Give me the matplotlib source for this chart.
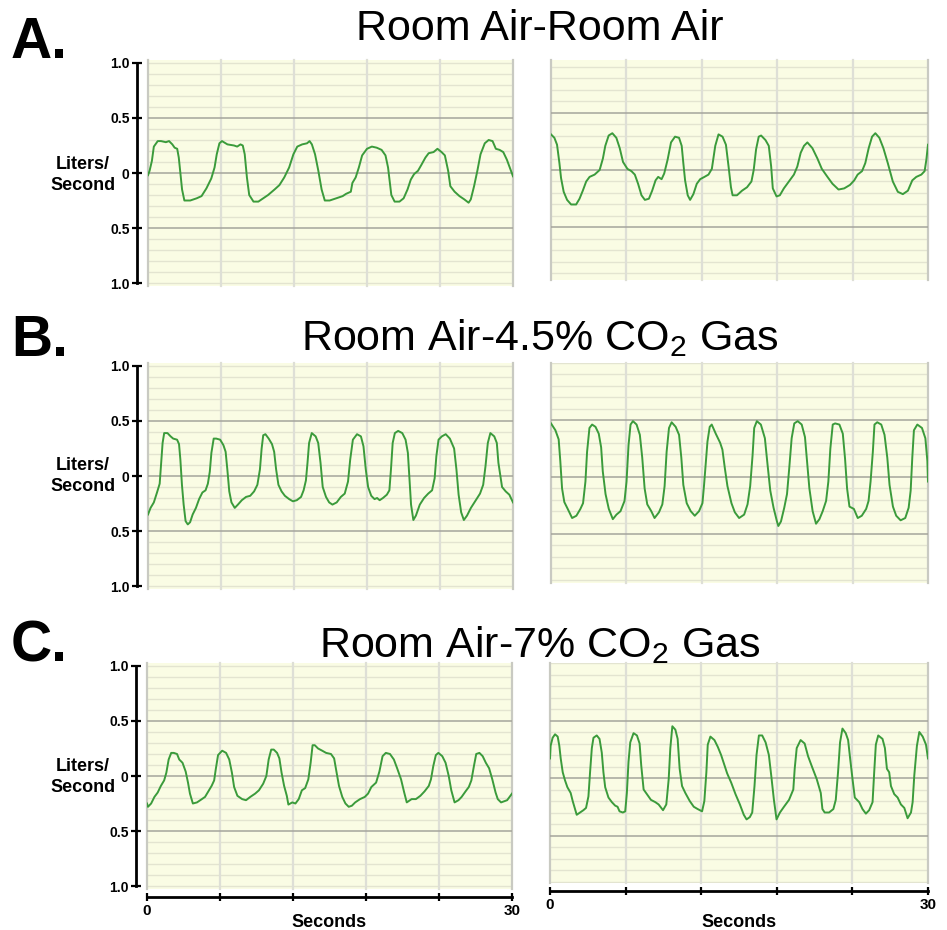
import matplotlib
matplotlib.use("Agg")
import matplotlib.pyplot as plt
import numpy as np

plt.rcParams['font.family'] = ['Liberation Sans', 'DejaVu Sans']
plt.rcParams['mathtext.fontset'] = 'custom'
plt.rcParams['mathtext.rm'] = 'Liberation Sans'
plt.rcParams['mathtext.it'] = 'Liberation Sans:italic'
plt.rcParams['mathtext.bf'] = 'Liberation Sans:bold'

# ---------------- data (seconds, liters/second) ----------------
a_left_t = [0.0, 0.13, 0.32, 0.48, 0.8, 1.07, 1.47, 1.73, 2.0, 2.19,
            2.4, 2.53, 2.67, 2.8, 2.99, 3.47, 4.0, 4.4, 4.8, 5.2,
            5.47, 5.65, 5.87, 6.08, 6.53, 7.07, 7.33, 7.6, 7.79, 7.95,
            8.13, 8.32, 8.67, 9.07, 9.47, 9.87, 10.4, 10.8, 11.2, 11.6,
            11.95, 12.27, 12.67, 13.07, 13.28, 13.47, 13.73, 14.0, 14.27, 14.53,
            14.93, 15.47, 16.0, 16.27, 16.67, 16.8, 17.07, 17.33, 17.6, 18.0,
            18.4, 18.8, 19.2, 19.52, 19.73, 19.87, 20.0, 20.27, 20.67, 21.01,
            21.33, 21.6, 21.87, 22.19, 22.45, 22.8, 23.07, 23.47, 23.79, 24.13,
            24.4, 24.67, 24.85, 25.2, 25.6, 26.0, 26.35, 26.53, 26.8, 27.07,
            27.33, 27.68, 28.0, 28.32, 28.59, 28.9, 29.2, 29.5, 29.8, 30.0]
a_left_v = [-0.02, 0.02, 0.11, 0.24, 0.29, 0.29, 0.28, 0.29, 0.26, 0.23,
            0.22, 0.14, -0.01, -0.15, -0.25, -0.25, -0.23, -0.21, -0.14, -0.05,
            0.05, 0.17, 0.27, 0.29, 0.26, 0.25, 0.24, 0.26, 0.25, 0.17,
            -0.04, -0.2, -0.26, -0.26, -0.23, -0.2, -0.15, -0.11, -0.04, 0.05,
            0.17, 0.24, 0.26, 0.27, 0.29, 0.26, 0.17, 0.02, -0.15, -0.25,
            -0.25, -0.23, -0.21, -0.19, -0.17, -0.09, -0.04, 0.05, 0.16, 0.22,
            0.24, 0.23, 0.21, 0.16, 0.05, -0.08, -0.2, -0.26, -0.26, -0.23,
            -0.15, -0.06, -0.01, 0.02, 0.07, 0.14, 0.18, 0.19, 0.22, 0.19,
            0.16, 0.02, -0.12, -0.17, -0.21, -0.24, -0.27, -0.24, -0.12, 0.02,
            0.17, 0.27, 0.3, 0.29, 0.22, 0.21, 0.19, 0.12, 0.03, -0.03]

a_right_t = [0.0, 0.27, 0.48, 0.67, 0.8, 1.01, 1.28, 1.6, 2.0, 2.27,
             2.53, 2.8, 3.07, 3.47, 3.87, 4.13, 4.32, 4.59, 4.88, 5.2,
             5.47, 5.73, 6.08, 6.4, 6.67, 6.93, 7.2, 7.47, 7.79, 8.05,
             8.32, 8.53, 8.8, 9.01, 9.28, 9.55, 9.87, 10.19, 10.4, 10.53,
             10.67, 10.88, 11.07, 11.33, 11.6, 11.87, 12.21, 12.53, 12.8, 13.07,
             13.33, 13.65, 13.92, 14.13, 14.32, 14.45, 14.8, 15.2, 15.6, 15.95,
             16.13, 16.32, 16.53, 16.72, 17.07, 17.33, 17.52, 17.65, 17.95, 18.21,
             18.53, 18.93, 19.33, 19.6, 19.87, 20.13, 20.4, 20.8, 21.2, 21.55,
             22.0, 22.4, 22.88, 23.33, 23.79, 24.13, 24.4, 24.75, 25.01, 25.28,
             25.55, 25.81, 26.13, 26.45, 26.8, 27.2, 27.6, 28.0, 28.4, 28.75,
             29.07, 29.47, 29.73, 29.87, 30.0]
a_right_v = [0.31, 0.28, 0.22, 0.06, -0.07, -0.19, -0.26, -0.3, -0.3, -0.25,
             -0.18, -0.1, -0.06, -0.04, 0.0, 0.10, 0.21, 0.30, 0.32, 0.28,
             0.19, 0.07, 0.01, -0.01, -0.04, -0.12, -0.22, -0.26, -0.25, -0.18,
             -0.09, -0.06, -0.08, -0.03, 0.09, 0.24, 0.29, 0.28, 0.21, 0.06,
             -0.09, -0.22, -0.26, -0.21, -0.12, -0.08, -0.06, -0.04, 0.01, 0.21,
             0.31, 0.29, 0.22, 0.03, -0.15, -0.22, -0.22, -0.18, -0.15, -0.10,
             0.0, 0.18, 0.29, 0.3, 0.26, 0.21, 0.03, -0.16, -0.23, -0.22,
             -0.16, -0.1, -0.04, 0.03, 0.15, 0.21, 0.24, 0.19, 0.10, 0.01,
             -0.06, -0.12, -0.17, -0.16, -0.13, -0.09, -0.04, -0.01, 0.06, 0.19,
             0.29, 0.32, 0.28, 0.19, 0.06, -0.1, -0.19, -0.21, -0.18, -0.09,
             -0.06, -0.04, -0.01, 0.09, 0.22]

b_left_t = [0.0, 0.21, 0.48, 0.74, 0.96, 1.06, 1.2, 1.33, 1.6, 1.86,
            2.07, 2.39, 2.55, 2.66, 2.79, 2.93, 3.09, 3.27, 3.46, 3.67,
            3.94, 4.2, 4.47, 4.73, 4.92, 5.08, 5.21, 5.4, 5.61, 5.93,
            6.2, 6.38, 6.52, 6.68, 6.86, 7.13, 7.39, 7.71, 8.06, 8.4,
            8.72, 8.99, 9.2, 9.34, 9.47, 9.65, 9.92, 10.19, 10.37, 10.53,
            10.72, 10.98, 11.25, 11.6, 11.91, 12.23, 12.58, 12.79, 12.98, 13.11,
            13.24, 13.46, 13.78, 13.99, 14.18, 14.36, 14.63, 14.89, 15.16, 15.51,
            15.85, 16.17, 16.44, 16.62, 16.84, 17.18, 17.5, 17.71, 17.9, 18.09,
            18.35, 18.62, 18.83, 19.04, 19.31, 19.63, 19.84, 19.97, 20.11, 20.29,
            20.56, 20.9, 21.17, 21.36, 21.49, 21.62, 21.81, 22.02, 22.34, 22.69,
            23.03, 23.35, 23.56, 23.7, 23.88, 24.15, 24.47, 24.81, 25.16, 25.35,
            25.53, 25.74, 25.96, 26.22, 26.54, 26.94, 27.29, 27.55, 27.74, 27.93,
            28.14, 28.46, 28.67, 28.8, 28.99, 29.1, 29.4, 29.7, 30.0]
b_left_v = [-0.35, -0.29, -0.24, -0.15, -0.07, 0.09, 0.3, 0.39, 0.39, 0.36,
            0.34, 0.33, 0.29, 0.15, -0.08, -0.26, -0.41, -0.44, -0.42, -0.35,
            -0.29, -0.21, -0.15, -0.13, -0.07, 0.04, 0.21, 0.34, 0.34, 0.33,
            0.28, 0.22, 0.06, -0.14, -0.24, -0.29, -0.26, -0.22, -0.19, -0.18,
            -0.14, -0.08, 0.06, 0.25, 0.37, 0.38, 0.34, 0.29, 0.22, 0.06,
            -0.08, -0.14, -0.18, -0.21, -0.23, -0.22, -0.19, -0.13, -0.04, 0.12,
            0.3, 0.39, 0.36, 0.3, 0.12, -0.1, -0.19, -0.24, -0.26, -0.24,
            -0.19, -0.16, -0.05, 0.15, 0.33, 0.38, 0.36, 0.27, 0.06, -0.1,
            -0.18, -0.21, -0.20, -0.22, -0.2, -0.17, -0.13, 0.06, 0.3, 0.39,
            0.41, 0.39, 0.33, 0.21, -0.02, -0.26, -0.4, -0.36, -0.26, -0.2,
            -0.16, -0.13, -0.02, 0.18, 0.33, 0.36, 0.38, 0.34, 0.25, 0.06,
            -0.17, -0.33, -0.4, -0.36, -0.29, -0.22, -0.16, -0.08, 0.09, 0.3,
            0.39, 0.36, 0.3, 0.12, -0.02, -0.1, -0.14, -0.17, -0.24]

b_right_t = [0.0, 0.35, 0.61, 0.74, 0.88, 1.06, 1.33, 1.68, 2.02, 2.34,
             2.55, 2.74, 2.87, 3.06, 3.27, 3.54, 3.8, 3.99, 4.12, 4.34,
             4.6, 4.92, 5.21, 5.53, 5.85, 6.01, 6.17, 6.33, 6.52, 6.81,
             7.07, 7.26, 7.45, 7.66, 7.98, 8.24, 8.59, 8.86, 9.04, 9.2,
             9.39, 9.6, 9.92, 10.19, 10.37, 10.53, 10.8, 11.12, 11.44, 11.78,
             12.05, 12.18, 12.31, 12.45, 12.63, 12.79, 13.11, 13.46, 13.64, 13.83,
             14.04, 14.36, 14.63, 14.97, 15.37, 15.64, 15.85, 16.04, 16.17, 16.38,
             16.7, 17.02, 17.23, 17.45, 17.71, 17.98, 18.09, 18.3, 18.56, 18.78,
             18.96, 19.15, 19.36, 19.63, 19.95, 20.21, 20.37, 20.56, 20.82, 21.09,
             21.36, 21.62, 21.89, 22.07, 22.23, 22.42, 22.61, 22.95, 23.22, 23.4,
             23.56, 23.75, 24.1, 24.41, 24.73, 25.08, 25.27, 25.43, 25.61, 25.74,
             25.96, 26.28, 26.54, 26.76, 26.94, 27.21, 27.47, 27.82, 28.19, 28.46,
             28.62, 28.75, 28.88, 29.15, 29.52, 29.79, 29.95, 30.0]
b_right_v = [0.47, 0.41, 0.33, 0.14, -0.10, -0.22, -0.28, -0.36, -0.34, -0.28,
             -0.23, -0.04, 0.22, 0.43, 0.46, 0.44, 0.38, 0.26, 0.05, -0.15,
             -0.28, -0.37, -0.33, -0.30, -0.21, -0.04, 0.28, 0.46, 0.49, 0.46,
             0.37, 0.17, -0.10, -0.24, -0.30, -0.36, -0.31, -0.24, -0.08, 0.22,
             0.43, 0.48, 0.44, 0.37, 0.17, -0.07, -0.23, -0.30, -0.34, -0.30,
             -0.23, -0.07, 0.11, 0.31, 0.44, 0.46, 0.38, 0.30, 0.24, 0.08,
             -0.08, -0.23, -0.31, -0.36, -0.33, -0.24, -0.08, 0.19, 0.43, 0.49,
             0.46, 0.34, 0.11, -0.12, -0.27, -0.39, -0.43, -0.39, -0.27, -0.15,
             0.08, 0.34, 0.47, 0.49, 0.46, 0.35, 0.14, -0.10, -0.30, -0.41,
             -0.37, -0.30, -0.21, -0.04, 0.25, 0.46, 0.47, 0.46, 0.38, 0.16,
             -0.10, -0.26, -0.28, -0.36, -0.34, -0.28, -0.21, -0.04, 0.22, 0.46,
             0.48, 0.46, 0.37, 0.17, -0.07, -0.26, -0.34, -0.38, -0.36, -0.27,
             -0.12, 0.17, 0.41, 0.46, 0.43, 0.34, 0.14, -0.04]

c_left_t = [0.0, 0.08, 0.34, 0.61, 0.88, 1.14, 1.41, 1.59, 1.78, 1.99,
            2.2, 2.47, 2.65, 2.92, 3.18, 3.37, 3.53, 3.77, 4.11, 4.51,
            4.77, 5.04, 5.31, 5.52, 5.65, 5.84, 6.18, 6.5, 6.76, 6.98,
            7.16, 7.43, 7.82, 8.14, 8.49, 8.89, 9.2, 9.55, 9.81, 10.0,
            10.21, 10.42, 10.69, 10.88, 11.06, 11.27, 11.49, 11.62, 11.94, 12.2,
            12.47, 12.73, 13.0, 13.26, 13.45, 13.61, 13.79, 14.06, 14.4, 14.72,
            15.12, 15.38, 15.57, 15.78, 16.05, 16.31, 16.58, 16.84, 17.11, 17.51,
            17.9, 18.17, 18.44, 18.83, 19.1, 19.36, 19.63, 19.97, 20.29, 20.56,
            20.88, 21.14, 21.35, 21.75, 22.1, 22.47, 22.81, 23.16, 23.34, 23.53,
            23.74, 23.95, 24.27, 24.54, 24.8, 25.01, 25.28, 25.6, 25.86, 26.18,
            26.45, 26.66, 26.87, 27.06, 27.32, 27.59, 27.85, 28.12, 28.38, 28.65,
            28.83, 29.1, 29.6, 30.0]
c_left_v = [-0.25, -0.28, -0.25, -0.19, -0.15, -0.09, -0.04, 0.03, 0.15, 0.21,
            0.21, 0.20, 0.15, 0.12, 0.04, -0.06, -0.16, -0.25, -0.24, -0.21,
            -0.19, -0.14, -0.09, -0.04, 0.06, 0.19, 0.23, 0.21, 0.15, 0.03,
            -0.10, -0.18, -0.21, -0.22, -0.19, -0.16, -0.13, -0.07, 0.0, 0.15,
            0.24, 0.24, 0.21, 0.16, 0.03, -0.09, -0.18, -0.26, -0.24, -0.25,
            -0.21, -0.13, -0.11, -0.03, 0.12, 0.28, 0.28, 0.25, 0.23, 0.21,
            0.20, 0.16, 0.04, -0.09, -0.19, -0.25, -0.28, -0.27, -0.24, -0.21,
            -0.19, -0.16, -0.10, -0.06, 0.04, 0.18, 0.21, 0.20, 0.15, 0.07,
            -0.03, -0.15, -0.24, -0.21, -0.21, -0.18, -0.14, -0.09, -0.03, 0.09,
            0.19, 0.21, 0.18, 0.12, 0.0, -0.13, -0.24, -0.22, -0.19, -0.14,
            -0.10, -0.04, 0.09, 0.20, 0.21, 0.18, 0.12, 0.07, -0.03, -0.15,
            -0.21, -0.24, -0.22, -0.16]

c_right_t = [0.0, 0.05, 0.21, 0.4, 0.61, 0.74, 0.85, 1.01, 1.19, 1.38,
             1.64, 1.8, 1.99, 2.12, 2.39, 2.65, 2.86, 3.05, 3.18, 3.32,
             3.45, 3.71, 3.93, 4.11, 4.24, 4.38, 4.64, 4.91, 5.17, 5.36,
             5.52, 5.78, 5.97, 6.1, 6.23, 6.37, 6.63, 6.9, 7.11, 7.24,
             7.43, 7.69, 8.01, 8.36, 8.62, 8.97, 9.23, 9.42, 9.55, 9.71,
             9.95, 10.13, 10.29, 10.48, 10.74, 11.09, 11.41, 11.72, 12.07, 12.25,
             12.41, 12.52, 12.73, 13.05, 13.32, 13.58, 13.79, 14.06, 14.38, 14.72,
             15.07, 15.38, 15.6, 15.86, 16.05, 16.23, 16.39, 16.58, 16.84, 17.11,
             17.37, 17.56, 17.77, 17.98, 18.25, 18.57, 18.97, 19.31, 19.42, 19.58,
             19.89, 20.21, 20.48, 20.82, 21.17, 21.49, 21.62, 21.8, 22.15, 22.49,
             22.68, 22.86, 23.02, 23.21, 23.47, 23.66, 23.82, 24.01, 24.19, 24.54,
             24.8, 25.07, 25.33, 25.6, 25.73, 25.86, 26.05, 26.39, 26.58, 26.74,
             26.92, 27.06, 27.32, 27.59, 27.85, 28.12, 28.38, 28.65, 28.78, 28.91,
             29.12, 29.31, 29.58, 29.84, 30.0]
c_right_v = [0.17, 0.28, 0.35, 0.38, 0.36, 0.28, 0.17, 0.05, -0.02, -0.08,
             -0.13, -0.20, -0.27, -0.32, -0.30, -0.28, -0.26, -0.16, 0.05, 0.26,
             0.35, 0.37, 0.34, 0.22, 0.05, -0.08, -0.17, -0.21, -0.24, -0.25,
             -0.29, -0.30, -0.29, -0.13, 0.14, 0.31, 0.39, 0.37, 0.30, 0.11,
             -0.10, -0.14, -0.19, -0.21, -0.23, -0.28, -0.23, -0.01, 0.26, 0.45,
             0.42, 0.34, 0.08, -0.07, -0.13, -0.20, -0.25, -0.27, -0.29, -0.20,
             0.05, 0.29, 0.36, 0.33, 0.27, 0.20, 0.13, 0.04, -0.04, -0.14,
             -0.23, -0.32, -0.36, -0.34, -0.30, -0.07, 0.20, 0.37, 0.37, 0.31,
             0.20, 0.02, -0.19, -0.36, -0.30, -0.25, -0.19, -0.10, 0.08, 0.26,
             0.33, 0.30, 0.19, 0.09, -0.01, -0.13, -0.27, -0.30, -0.30, -0.27,
             -0.19, 0.05, 0.31, 0.43, 0.39, 0.33, 0.17, -0.01, -0.17, -0.21,
             -0.27, -0.31, -0.28, -0.21, 0.05, 0.29, 0.37, 0.34, 0.26, 0.08,
             0.05, -0.07, -0.14, -0.17, -0.23, -0.26, -0.35, -0.30, -0.21, 0.02,
             0.28, 0.40, 0.36, 0.29, 0.17]

titles = ['Room Air-Room Air', r'Room Air-4.5% CO$_\mathrm{2}$ Gas', r'Room Air-7% CO$_\mathrm{2}$ Gas']
panel_letters = ['A.', 'B.', 'C.']
ytick_values = [-1.0, -0.5, 0.0, 0.5, 1.0]
ytick_labels = ['1.0', '0.5', '0', '0.5', '1.0']
xtick_values = [0, 6, 12, 18, 24, 30]
xtick_labels = ['0', '', '', '', '', '30']
ylabel_text = 'Liters/\nSecond'
xlabel_text = 'Seconds'

traces = [[(a_left_t, a_left_v), (a_right_t, a_right_v)],
          [(b_left_t, b_left_v), (b_right_t, b_right_v)],
          [(c_left_t, c_left_v), (c_right_t, c_right_v)]]

# ---------------- layout (pixels) ----------------
W, H = 947, 930
fig = plt.figure(figsize=(W / 100, H / 100), dpi=100)
fig.patch.set_facecolor('white')

left_boxes = [(148, 60, 513, 286), (148, 363, 513, 589), (147, 663, 512, 889)]
left_ylims = [(-1.027, 1.027), (-1.027, 1.027), (-1.027, 1.027)]
right_boxes = [(551, 60, 928, 280), (551, 363, 928, 583), (550, 663, 928, 883)]
right_ylims = [(-0.957, 0.957), (-0.93, 1.0), (-0.913, 1.0)]
title_baselines = [40, 350, 657]
letter_baselines = [58, 356, 661]
zero_rows = [175, 476, 777]

BG = '#fafce4'
MINOR = '#e3e4d0'
MAJOR = '#a5a59c'
VGRID = '#dedfd6'
VEDGE = '#c9cac2'
TRACE = '#3b9b3b'


def make_axes(box):
    x0, y0, x1, y1 = box
    return fig.add_axes([x0 / W, 1 - y1 / H, (x1 - x0) / W, (y1 - y0) / H])


def decorate(ax, ylim):
    ax.set_facecolor(BG)
    ax.set_xlim(0, 30)
    ax.set_ylim(*ylim)
    for s in ax.spines.values():
        s.set_visible(False)
    ax.set_xticks([])
    ax.set_yticks([])
    for k in range(-10, 11):
        y = k / 10.0
        if ylim[0] <= y <= ylim[1]:
            major = k in (-5, 0, 5)
            ax.axhline(y, color=MAJOR if major else MINOR, lw=1.1 if major else 1.0,
                       zorder=1.5 if major else 1)
    for x in xtick_values:
        edge = x in (0, 30)
        ax.axvline(x, color=VEDGE if edge else VGRID, lw=1.6, zorder=1.2, clip_on=False)


def add_bottom_axis(ax):
    ax.spines['bottom'].set_visible(True)
    ax.spines['bottom'].set_position(('outward', 5.5))
    ax.spines['bottom'].set_bounds(0, 30)
    ax.spines['bottom'].set_linewidth(2.0)
    ax.spines['bottom'].set_color('black')
    ax.set_xticks(xtick_values)
    ax.set_xticklabels(xtick_labels)
    ax.tick_params(axis='x', direction='inout', length=6, width=1.6, labelsize=11, pad=2)
    for lab in ax.get_xticklabels():
        lab.set_fontweight('bold')


for row in range(3):
    # left panel
    axl = make_axes(left_boxes[row])
    decorate(axl, left_ylims[row])
    t, v = traces[row][0]
    n = min(len(t), len(v))
    axl.plot(t[:n], v[:n], color=TRACE, lw=1.4, zorder=3, solid_joinstyle='round')
    axl.spines['left'].set_visible(True)
    axl.spines['left'].set_position(('outward', 8))
    axl.spines['left'].set_bounds(-1, 1)
    axl.spines['left'].set_linewidth(2.0)
    axl.spines['left'].set_color('black')
    axl.set_yticks(ytick_values)
    axl.set_yticklabels(ytick_labels)
    axl.tick_params(axis='y', direction='inout', length=6.5, width=1.6, labelsize=10, pad=2)
    for lab in axl.get_yticklabels():
        lab.set_fontweight('bold')

    # right panel
    axr = make_axes(right_boxes[row])
    decorate(axr, right_ylims[row])
    t, v = traces[row][1]
    n = min(len(t), len(v))
    axr.plot(t[:n], v[:n], color=TRACE, lw=1.4, zorder=3, solid_joinstyle='round')

    if row == 2:
        add_bottom_axis(axl)
        add_bottom_axis(axr)
        for box in (left_boxes[row], right_boxes[row]):
            cx = (box[0] + box[2]) / 2.0
            fig.text(cx / W, 1 - 922 / H, xlabel_text, ha='center', va='center',
                     fontsize=13, fontweight='bold')

    fig.text(540 / W, 1 - title_baselines[row] / H, titles[row], ha='center',
             va='baseline', fontsize=31)
    fig.text(11 / W, 1 - letter_baselines[row] / H, panel_letters[row], ha='left',
             va='baseline', fontsize=41, fontweight='bold')
    fig.text(83 / W, 1 - zero_rows[row] / H, ylabel_text, ha='center', va='center',
             fontsize=13, fontweight='bold', linespacing=1.25)

fig.savefig('out.png', dpi=100, facecolor='white')
